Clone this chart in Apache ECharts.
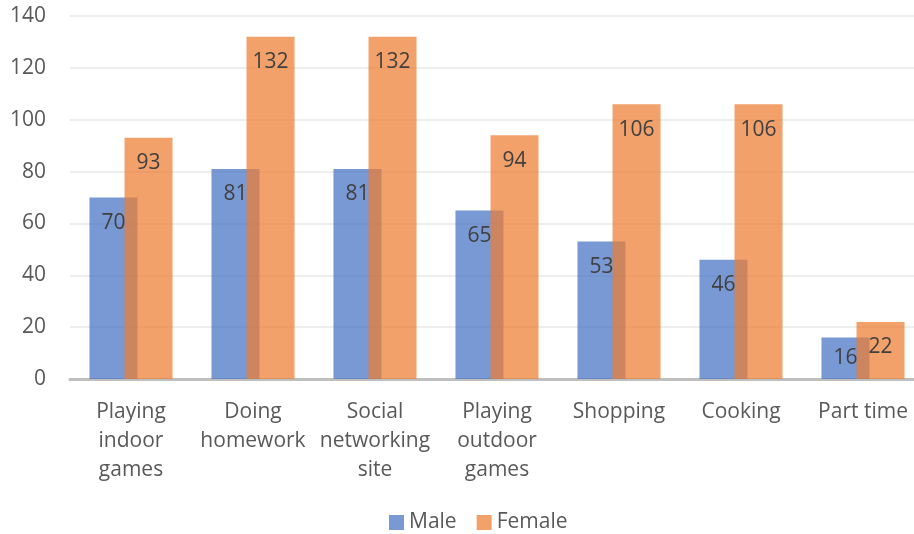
<!DOCTYPE html>
<html>
<head>
<meta charset="utf-8">
<script src="https://cdn.jsdelivr.net/npm/echarts@6/dist/echarts.min.js"></script>
<style>
  html, body { margin: 0; padding: 0; background: #fff; overflow: hidden; width: 914px; height: 534px; }
  /* the plot runs a little past the right edge of the page */
  #chart { width: 924px; height: 534px; }
</style>
</head>
<body>
<div id="chart"></div>
<script>
// Activities by gender
const categories = [
  'Playing\nindoor\ngames',
  'Doing\nhomework',
  'Social\nnetworking\nsite',
  'Playing\noutdoor\ngames',
  'Shopping',
  'Cooking',
  'Part time'
];
const maleValues = [70, 81, 81, 65, 53, 46, 16];
const femaleValues = [93, 132, 132, 94, 106, 106, 22];
const yTicks = [0, 20, 40, 60, 80, 100, 120, 140];

const FONT = "'Open Sans', 'Noto Sans', sans-serif";
const TEXT = '#595959';

function barLabel() {
  return {
    show: true,
    position: 'insideTop',
    distance: 15,
    color: '#404040',
    fontSize: 21,
    fontFamily: FONT
  };
}

// Short bars get their label centred instead of near the top
function withLabels(values) {
  return values.map(v => v < 20
    ? { value: v, label: { position: 'inside', distance: 0 } }
    : v);
}

const chart = echarts.init(document.getElementById('chart'), null, { renderer: 'canvas' });
chart.setOption({
  animation: false,
  textStyle: { fontFamily: FONT },
  grid: { left: 70, right: 0, top: 16, bottom: 155, containLabel: false },
  legend: {
    bottom: 0,
    left: 389,
    padding: [0, 0, 1, 0],
    itemWidth: 15,
    itemHeight: 15,
    itemGap: 20,
    icon: 'rect',
    textStyle: { color: TEXT, fontSize: 21, fontFamily: FONT },
    data: ['Male', 'Female']
  },
  xAxis: {
    type: 'category',
    data: categories,
    axisLine: { lineStyle: { color: '#bfbfbf', width: 3 } },
    axisTick: { show: false },
    axisLabel: {
      color: TEXT,
      fontSize: 21,
      fontFamily: FONT,
      lineHeight: 29,
      margin: 19,
      interval: 0
    }
  },
  yAxis: {
    type: 'value',
    min: yTicks[0],
    max: yTicks[yTicks.length - 1],
    interval: 20,
    axisLine: { show: false },
    axisTick: { show: false },
    splitLine: { lineStyle: { color: '#e8e8e8', width: 1.5 } },
    axisLabel: { color: TEXT, fontSize: 21, fontFamily: FONT, margin: 24 }
  },
  series: [
    {
      name: 'Male',
      type: 'bar',
      data: withLabels(maleValues),
      barWidth: 48,
      barGap: '-27%',
      itemStyle: { color: 'rgba(68,114,196,0.72)' },
      label: barLabel()
    },
    {
      name: 'Female',
      type: 'bar',
      data: withLabels(femaleValues),
      barWidth: 48,
      itemStyle: { color: 'rgba(237,125,49,0.72)' },
      label: barLabel()
    }
  ]
});
</script>
</body>
</html>
